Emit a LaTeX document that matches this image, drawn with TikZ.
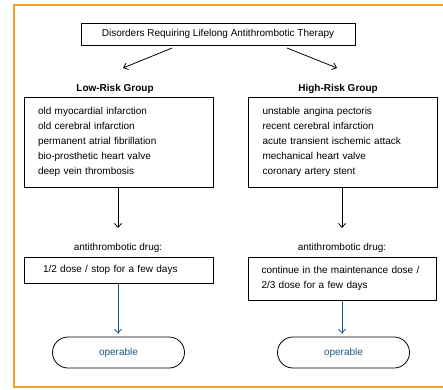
\documentclass[tikz,border=0pt]{standalone}
\usepackage{fontspec}
\setmainfont{Liberation Sans}
\usetikzlibrary{arrows.meta}
\definecolor{frameorange}{RGB}{242,162,38}
\definecolor{opblue}{RGB}{30,88,128}
\begin{document}
\begin{tikzpicture}[x=1pt,y=-1pt,
  every node/.style={font=\fontsize{10}{15}\selectfont, inner sep=0pt},
  box/.style={draw, line width=0.8pt, rectangle},
  listbox/.style={box, minimum width=189pt, minimum height=90pt, align=left, inner xsep=14pt, text width=161pt},
  grouplbl/.style={font=\fontsize{10}{12}\selectfont\bfseries},
  oval/.style={draw, line width=0.8pt, rounded corners=15.5pt, minimum width=132pt, minimum height=31pt, text=opblue},
  arr/.style={line width=0.8pt, -{Straight Barb[length=4pt,width=7pt]}},
  bluearr/.style={arr, draw=opblue}
]
\useasboundingbox (0,0) rectangle (443,389);
\draw[frameorange, line width=2pt] (443,5) -- (14,5) -- (14,387) -- (443,387);

\node[box, minimum width=274pt, minimum height=22pt] (title) at (218,34) {Disorders Requiring Lifelong Antithrombotic Therapy};

\node[grouplbl] (low) at (115,89) {Low-Risk Group};
\node[grouplbl] (high) at (338,89) {High-Risk Group};

\coordinate (lt) at (123,68);
\coordinate (ht) at (337,68);
\coordinate (ls) at (172,48);
\coordinate (hs) at (287,48);
\draw[arr] (ls) -- (lt);
\draw[arr] (hs) -- (ht);

\node[listbox] (lbox) at (118.5,142) {old myocardial infarction\\old cerebral infarction\\permanent atrial fibrillation\\bio-prosthetic heart valve\\deep vein thrombosis};
\node[listbox] (hbox) at (343,142) {unstable angina pectoris\\recent cerebral infarction\\acute transient ischemic attack\\mechanical heart valve\\coronary artery stent};

\coordinate (la) at (118,228);
\coordinate (ha) at (342,228);
\draw[arr] (lbox.south -| la) -- (la);
\draw[arr] (hbox.south -| ha) -- (ha);

\node (ldrug) at (118,248) {antithrombotic drug:};
\node (hdrug) at (342,248) {antithrombotic drug:};

\node[box, minimum width=189pt, minimum height=26pt, inner xsep=19pt, text width=151pt, align=left] (ldose) at (118.5,270) {1/2 dose / stop for a few days};
\node[box, minimum width=188pt, minimum height=43pt, inner xsep=13.5pt, text width=161pt, align=left, font=\fontsize{10}{14.5}\selectfont] (hdose) at (342,278.5) {continue in the maintenance dose /\\2/3 dose for a few days};

\node[oval] (lop) at (118.5,352.5) {operable};
\node[oval] (hop) at (343.5,352.5) {operable};

\draw[bluearr, shorten >=3pt] (ldose.south -| la) -- (lop.north -| la);
\draw[bluearr, shorten >=3pt] (hdose.south -| ha) -- (hop.north -| ha);
\end{tikzpicture}
\end{document}
